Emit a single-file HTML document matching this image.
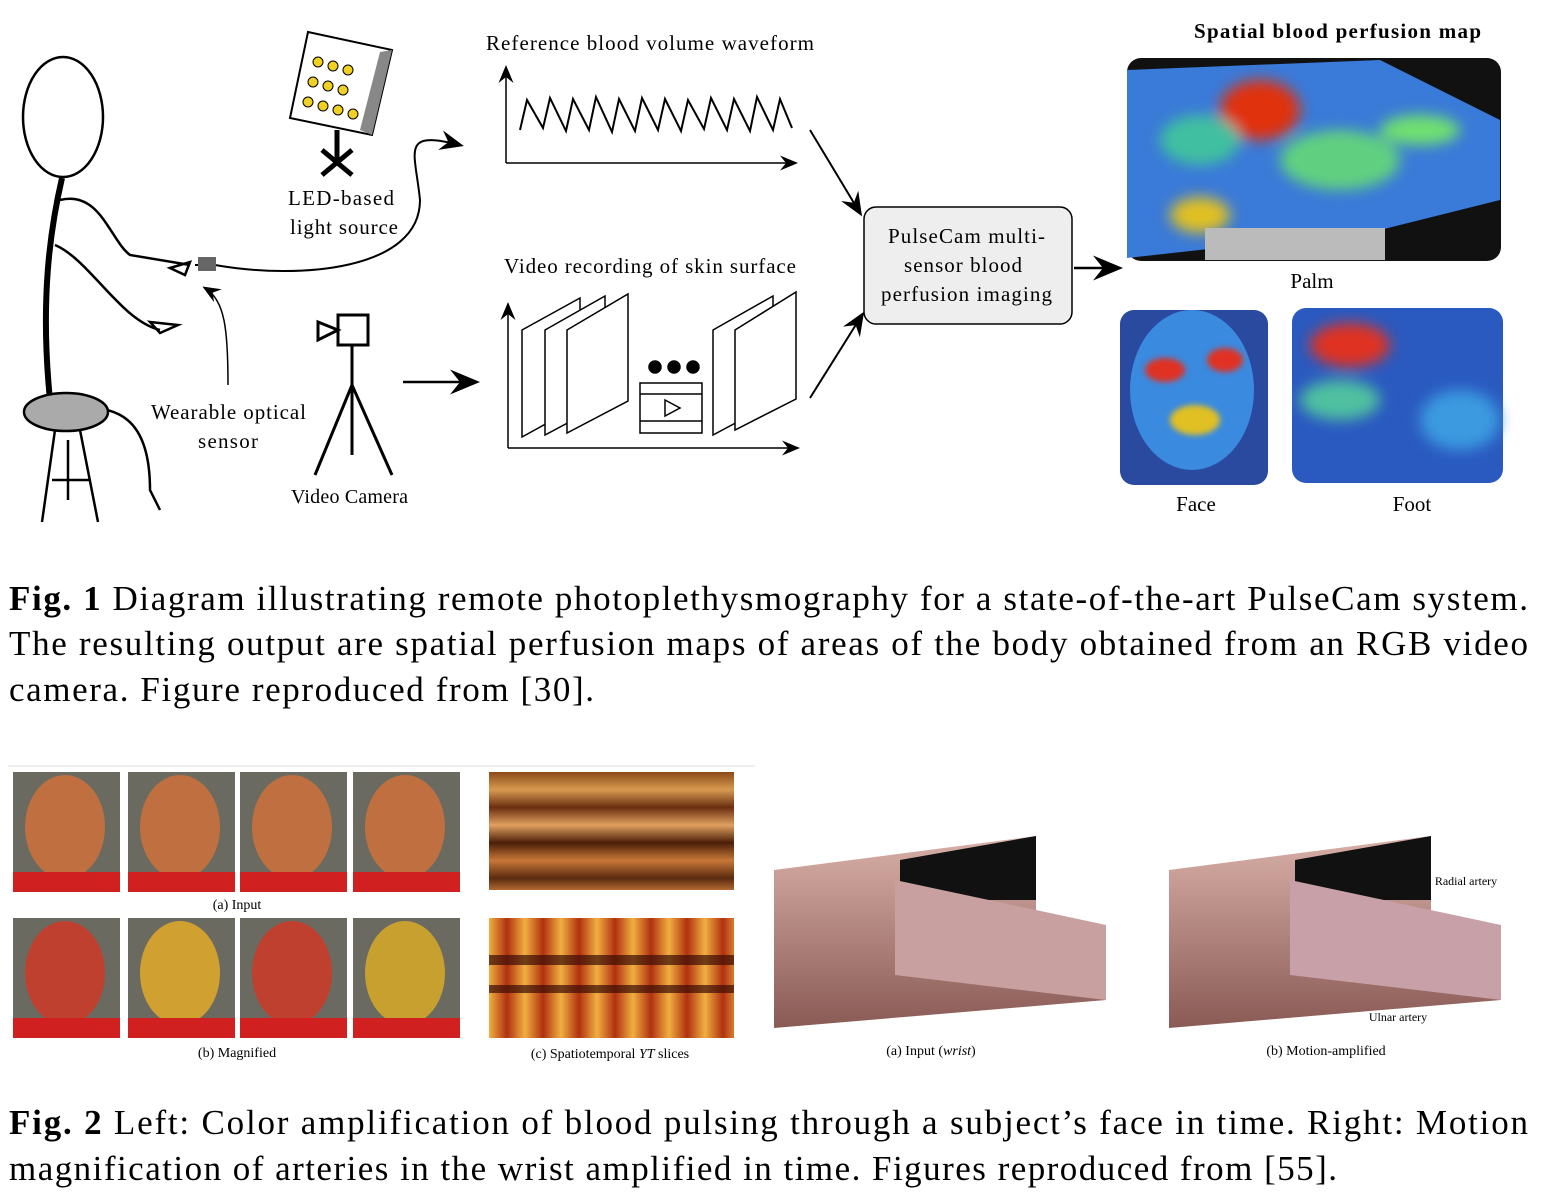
<!DOCTYPE html>
<html><head><meta charset="utf-8"><style>
body{margin:0;background:#fff}
svg{display:block}
text{font-family:"Liberation Serif",serif}
</style></head><body>
<svg width="1555" height="1198" viewBox="0 0 1555 1198">
<defs>
<filter id="bl" x="-20%" y="-20%" width="140%" height="140%"><feGaussianBlur stdDeviation="7"/></filter>
<filter id="bl2"><feGaussianBlur stdDeviation="3"/></filter>
<marker id="ar" markerWidth="12" markerHeight="10" refX="10" refY="5" orient="auto"><path d="M0,0 L12,5 L0,10 L4,5z" fill="#000"/></marker>
<linearGradient id="st1" x1="0" y1="0" x2="0" y2="1">
<stop offset="0" stop-color="#8a4a1a"/><stop offset=".15" stop-color="#d89a50"/><stop offset=".3" stop-color="#6a2e10"/><stop offset=".45" stop-color="#e0a060"/><stop offset=".6" stop-color="#4a1e08"/><stop offset=".75" stop-color="#c87838"/><stop offset=".9" stop-color="#5a2a10"/><stop offset="1" stop-color="#b06830"/></linearGradient>
<linearGradient id="st2" gradientUnits="userSpaceOnUse" x1="489" y1="0" x2="525" y2="0" spreadMethod="repeat">
<stop offset="0" stop-color="#f0b040"/><stop offset=".5" stop-color="#b03010"/><stop offset="1" stop-color="#f0b040"/></linearGradient>
<linearGradient id="wr" x1="0" y1="0" x2="0" y2="1"><stop offset="0" stop-color="#d8b0a8"/><stop offset="1" stop-color="#8a5a55"/></linearGradient>
</defs>

<g fill="none" stroke="#000" stroke-width="2.5">
<ellipse cx="63" cy="117" rx="40" ry="60"/>
<path d="M62,178 C50,230 40,300 50,400 L70,410" stroke-width="6"/>
<path d="M60,200 C100,190 110,240 130,255 L190,265"/>
<path d="M55,245 C90,260 120,320 160,330"/>
<path d="M60,410 C120,400 150,420 150,490 L160,510"/>
<path d="M170,268 L190,262 L185,275z"/>
<path d="M150,322 L178,325 L160,333z"/>
<ellipse cx="66" cy="412" rx="42" ry="19" fill="#aaa"/>
<path d="M55,430 L42,522 M80,430 L98,522 M52,480 L90,480 M68,440 L68,500"/>
</g>
<path d="M195,265 L215,265 C300,280 420,270 420,200 C415,150 400,130 460,145" fill="none" stroke="#000" stroke-width="2" marker-end="url(#ar)"/>
<rect x="198" y="257" width="18" height="14" fill="#666"/>
<path d="M228,385 C228,330 225,300 205,288" fill="none" stroke="#000" stroke-width="1.5" marker-end="url(#ar)"/>
<g>
<path d="M308,32 L392,50 L372,135 L290,118z" fill="#fff" stroke="#000" stroke-width="2"/>
<path d="M392,50 L380,52 L360,130 L372,135z" fill="#888"/>
<g fill="#f0d020" stroke="#000"><circle cx="318" cy="62" r="5"/><circle cx="333" cy="66" r="5"/><circle cx="348" cy="70" r="5"/><circle cx="313" cy="82" r="5"/><circle cx="328" cy="86" r="5"/><circle cx="343" cy="90" r="5"/><circle cx="308" cy="102" r="5"/><circle cx="323" cy="106" r="5"/><circle cx="338" cy="110" r="5"/><circle cx="353" cy="114" r="5"/></g>
<path d="M337,130 L337,160 M322,150 L352,175 M352,150 L322,175" stroke="#000" stroke-width="5"/>
</g>
<text x="288" y="205" font-size="21" textLength="106">LED-based</text>
<text x="290" y="234" font-size="21" textLength="108">light source</text>
<text x="151" y="419" font-size="21" textLength="155">Wearable optical</text>
<text x="198" y="448" font-size="21" textLength="60">sensor</text>
<g stroke="#000" stroke-width="3" fill="none">
<rect x="338" y="315" width="30" height="30" fill="#fff"/><path d="M318,322 L338,330 L318,340z"/>
<path d="M352,345 L352,385 M352,385 L315,475 M352,385 L392,475 M352,385 L352,455"/>
</g>
<text x="291" y="503" font-size="20" textLength="117">Video Camera</text>
<line x1="403" y1="382" x2="475" y2="382" stroke="#000" stroke-width="2.5" marker-end="url(#ar)"/>

<text x="486" y="50" font-size="21" textLength="328">Reference blood volume waveform</text>
<g>
<line x1="506" y1="163" x2="795" y2="163" stroke="#000" stroke-width="1.5" marker-end="url(#ar)"/>
<line x1="506" y1="163" x2="506" y2="68" stroke="#000" stroke-width="1.5" marker-end="url(#ar)"/>
<path id="wave" fill="none" stroke="#000" stroke-width="2"/>
</g>
<text x="504" y="273" font-size="21" textLength="292">Video recording of skin surface</text>
<g stroke="#000" stroke-width="1.5" fill="#fff">
<line x1="508" y1="448" x2="797" y2="448" marker-end="url(#ar)"/>
<line x1="508" y1="448" x2="508" y2="305" marker-end="url(#ar)"/>
<path d="M522,330 L580,298 L580,405 L522,437z"/><path d="M545,330 L605,296 L605,403 L545,435z"/><path d="M567,330 L628,294 L628,401 L567,433z"/>
<path d="M713,330 L773,296 L773,403 L713,435z"/><path d="M735,330 L796,292 L796,399 L735,430z"/>
<rect x="640" y="383" width="62" height="50"/>
<path d="M640,394 L702,394 M640,421 L702,421" /><path d="M665,400 L680,408 L665,416z"/>
<g fill="#000"><circle cx="655" cy="367" r="6"/><circle cx="674" cy="367" r="6"/><circle cx="693" cy="367" r="6"/></g>
</g>
<line x1="810" y1="130" x2="860" y2="213" stroke="#000" stroke-width="2" marker-end="url(#ar)"/>
<line x1="810" y1="398" x2="862" y2="315" stroke="#000" stroke-width="2" marker-end="url(#ar)"/>
<rect x="864" y="207" width="208" height="117" rx="12" fill="#eee" stroke="#000" stroke-width="1.5"/>
<text x="888" y="243" font-size="21" textLength="157">PulseCam multi-</text>
<text x="904" y="272" font-size="21" textLength="118">sensor blood</text>
<text x="881" y="301" font-size="21" textLength="171">perfusion imaging</text>
<line x1="1074" y1="268" x2="1118" y2="268" stroke="#000" stroke-width="2.5" marker-end="url(#ar)"/>

<text x="1194" y="38" font-size="21" font-weight="bold" textLength="287">Spatial  blood perfusion map</text>
<g>
<rect x="1127" y="58" width="374" height="203" rx="14" fill="#111"/>
<path d="M1127,70 L1380,60 L1500,120 L1500,200 L1380,230 L1127,258z" fill="#3a7ad8"/>
<g filter="url(#bl)"><ellipse cx="1260" cy="110" rx="40" ry="30" fill="#e03010"/><ellipse cx="1200" cy="140" rx="40" ry="25" fill="#40c0a0"/><ellipse cx="1340" cy="160" rx="60" ry="30" fill="#60d080"/><ellipse cx="1200" cy="215" rx="30" ry="18" fill="#e0c020"/><ellipse cx="1420" cy="130" rx="40" ry="15" fill="#70e070"/></g>
<rect x="1205" y="228" width="180" height="32" fill="#bbb"/>
</g>
<text x="1312" y="288" font-size="21" text-anchor="middle">Palm</text>
<g>
<rect x="1120" y="310" width="148" height="175" rx="14" fill="#2a4aa0"/>
<ellipse cx="1192" cy="390" rx="62" ry="80" fill="#3a8ae0"/>
<g filter="url(#bl2)"><ellipse cx="1165" cy="370" rx="20" ry="12" fill="#e03020"/><ellipse cx="1225" cy="360" rx="18" ry="12" fill="#e03020"/><ellipse cx="1195" cy="420" rx="25" ry="15" fill="#e0c020"/></g>
</g>
<text x="1196" y="511" font-size="21" text-anchor="middle">Face</text>
<g>
<rect x="1292" y="308" width="211" height="175" rx="14" fill="#2a5ac0"/>
<g filter="url(#bl)"><ellipse cx="1350" cy="345" rx="40" ry="22" fill="#e03020"/><ellipse cx="1340" cy="400" rx="40" ry="20" fill="#50c0a0"/><ellipse cx="1460" cy="420" rx="40" ry="30" fill="#3a9ae0"/></g>
</g>
<text x="1412" y="511" font-size="21" text-anchor="middle">Foot</text>

<g font-size="35">
<text x="9" y="610" textLength="1519" lengthAdjust="spacing"><tspan font-weight="bold">Fig. 1</tspan>  Diagram illustrating remote photoplethysmography for a state-of-the-art PulseCam system.</text>
<text x="9" y="655" textLength="1519" lengthAdjust="spacing">The resulting output are spatial perfusion maps of areas of the body obtained from an RGB video</text>
<text x="9" y="701" textLength="585" lengthAdjust="spacing">camera. Figure reproduced from [30].</text>
</g>

<line x1="8" y1="766" x2="755" y2="766" stroke="#ddd"/>
<g id="faces"></g>
<text x="237" y="909" font-size="14" text-anchor="middle">(a) Input</text>
<text x="237" y="1057" font-size="14" text-anchor="middle">(b) Magnified</text>
<rect x="489" y="772" width="245" height="118" fill="url(#st1)"/>
<rect x="489" y="918" width="245" height="120" fill="url(#st2)"/>
<rect x="489" y="955" width="245" height="10" fill="#3a0c04" opacity=".7"/>
<rect x="489" y="985" width="245" height="8" fill="#3a0c04" opacity=".7"/>
<text x="610" y="1058" font-size="14" text-anchor="middle">(c) Spatiotemporal <tspan font-style="italic">YT</tspan> slices</text>

<g>
<path d="M774,870 L1036,836 L1036,930 L1106,945 L1106,1000 L774,1028z" fill="url(#wr)"/>
<path d="M900,860 L1036,836 L1036,900 L900,900z" fill="#111"/>
<path d="M895,880 L1106,925 L1106,1000 L895,975z" fill="#c8a0a0"/>
</g>
<text x="931" y="1055" font-size="14" text-anchor="middle">(a)  Input (<tspan font-style="italic">wrist</tspan>)</text>
<g>
<path d="M1169,870 L1431,836 L1431,930 L1501,945 L1501,1000 L1169,1028z" fill="url(#wr)"/>
<path d="M1295,860 L1431,836 L1431,900 L1295,900z" fill="#111"/>
<path d="M1290,880 L1501,925 L1501,1000 L1290,975z" fill="#c8a0a8"/>
</g>
<text x="1466" y="885" font-size="12" text-anchor="middle">Radial artery</text>
<text x="1398" y="1021" font-size="12" text-anchor="middle">Ulnar artery</text>
<text x="1326" y="1055" font-size="14" text-anchor="middle">(b)  Motion-amplified</text>

<g font-size="35">
<text x="9" y="1134" textLength="1519" lengthAdjust="spacing"><tspan font-weight="bold">Fig. 2</tspan>  Left: Color amplification of blood pulsing through a subject’s face in time. Right: Motion</text>
<text x="9" y="1180" textLength="1328" lengthAdjust="spacing">magnification of arteries in the wrist amplified in time. Figures reproduced from [55].</text>
</g>
</svg>
<script>
const peaks=[130,128,131,130,132,131,130,131,129,130,131,130];
const troughs=[100,98,99,97,99,98,99,100,98,99,97,99];
let d='',x=520,step=23;
peaks.forEach((p,i)=>{d+=(i?'L':'M')+x+','+p+' L'+(x+7)+','+troughs[i]+' ';x+=step;});
d+='L'+(x-4)+',128';
document.getElementById('wave').setAttribute('d',d);
const cols=[['#c07040','#c07040','#c07040','#c07040'],['#c04030','#d0a030','#c04030','#c8a030']];
const xs=[13,128,240,353],ys=[772,918],g=document.getElementById('faces');
const NS='http://www.w3.org/2000/svg';
ys.forEach((y,r)=>xs.forEach((x,c)=>{
 const b=document.createElementNS(NS,'rect');
 
 
 b.setAttribute('x',x);b.setAttribute('y',y);b.setAttribute('width',107);b.setAttribute('height',120);b.setAttribute('fill','#6a6a60');g.appendChild(b);
 const e=document.createElementNS(NS,'ellipse');
 e.setAttribute('cx',x+52);e.setAttribute('cy',y+55);e.setAttribute('rx',40);e.setAttribute('ry',52);e.setAttribute('fill',cols[r][c]);g.appendChild(e);
 const s=document.createElementNS(NS,'rect');
 s.setAttribute('x',x);s.setAttribute('y',y+100);s.setAttribute('width',107);s.setAttribute('height',20);s.setAttribute('fill','#d02020');g.appendChild(s);
}));
</script>
</body></html>
